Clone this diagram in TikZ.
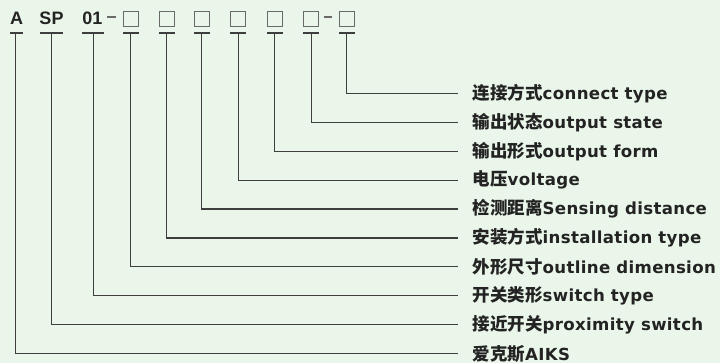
\documentclass[tikz,border=0pt]{standalone}
\usepackage{fontspec}
\setmainfont{DejaVu Sans}
\newfontfamily\cjk{Noto Sans CJK SC}
\newfontfamily\codefont{Liberation Sans}
\newfontfamily\itemfont[LetterSpace=2]{DejaVu Sans}
\usetikzlibrary{positioning}
\definecolor{bgcol}{RGB}{234,246,233}
\definecolor{linecol}{RGB}{62,62,62}
\definecolor{boxcol}{RGB}{105,105,105}
\definecolor{txtcol}{RGB}{35,35,35}
\newcommand{\zh}[1]{{\cjk\fontsize{17.5}{17.5}\selectfont #1}}

\begin{document}
\begin{tikzpicture}[x=1pt,y=-1pt,
  code/.style={font=\codefont\bfseries\fontsize{18}{18}\selectfont,text=txtcol,inner sep=0pt,anchor=base},
  slot/.style={draw=boxcol,line width=1pt,minimum size=15pt,inner sep=0pt},
  bar/.style={draw=linecol,line width=1.4pt},
  lead/.style={draw=linecol,line width=1.2pt},
  item/.style={font=\itemfont\bfseries\fontsize{16.6}{16.6}\selectfont,text=txtcol,inner sep=0pt,right=14.5pt of #1}]
\fill[bgcol] (0,0) rectangle (720,363);
\useasboundingbox (0,0) rectangle (720,363);
% type code
\node[code] (a) at (16.5,25) {A};
\node[code] (sp) at (51.5,25) {SP};
\node[code] (n01) at (92.5,25) {01};
\draw[boxcol,line width=1.2pt] (107,17) -- (116,17);
\node[slot] (b1) at (130.5,19.5) {};
\node[slot] (b2) at (166.5,19.5) {};
\node[slot] (b3) at (202,19.5) {};
\node[slot] (b4) at (238,19.5) {};
\node[slot] (b5) at (274.5,19.5) {};
\node[slot] (b6) at (310.5,19.5) {};
\draw[boxcol,line width=1.2pt] (324,17) -- (332,17);
\node[slot] (b7) at (346.5,19.5) {};
% bars under the code
\draw[bar] (10,33) -- (23,33);
\draw[bar] (40,33) -- (63,33);
\draw[bar] (82,33) -- (104,33);
\draw[bar] (123,33) -- (138.5,33);
\draw[bar] (158.5,33) -- (174.5,33);
\draw[bar] (194,33) -- (210,33);
\draw[bar] (230,33) -- (246,33);
\draw[bar] (266.5,33) -- (282.5,33);
\draw[bar] (302.5,33) -- (318.5,33);
\draw[bar] (338.5,33) -- (354.5,33);
\coordinate (ta) at (15.7,33);
\coordinate (tsp) at (51.7,33);
\coordinate (t01) at (93.7,33);
\coordinate (t1) at (130.7,33);
\coordinate (t2) at (166.7,33);
\coordinate (t3) at (201.7,33);
\coordinate (t4) at (238.3,33);
\coordinate (t5) at (274.3,33);
\coordinate (t6) at (311.3,33);
\coordinate (t7) at (346.7,33);
% line ends
\coordinate (e7) at (458,93.5);
\coordinate (e6) at (458,122.4);
\coordinate (e5) at (458,151.3);
\coordinate (e4) at (458,180.2);
\coordinate (e3) at (458,209.1);
\coordinate (e2) at (458,238);
\coordinate (e1) at (458,266.9);
\coordinate (e01) at (458,295.8);
\coordinate (esp) at (458,324.7);
\coordinate (ea) at (458,353.6);
% labels
\node[item=e7] (l7) {\zh{连接方式}connect type};
\node[item=e6] (l6) {\zh{输出状态}output state};
\node[item=e5] (l5) {\zh{输出形式}output form};
\node[item=e4] (l4) {\zh{电压}voltage};
\node[item=e3] (l3) {\zh{检测距离}Sensing distance};
\node[item=e2] (l2) {\zh{安装方式}installation type};
\node[item=e1] (l1) {\zh{外形尺寸}outline dimension};
\node[item=e01] (l01) {\zh{开关类形}switch type};
\node[item=esp] (lsp) {\zh{接近开关}proximity switch};
\node[item=ea] (la) {\zh{爱克斯}AIKS};
% leads
\draw[lead] (t7) |- (e7);
\draw[lead] (t6) |- (e6);
\draw[lead] (t5) |- (e5);
\draw[lead] (t4) |- (e4);
\draw[lead] (t3) |- (e3);
\draw[lead] (t2) |- (e2);
\draw[lead] (t1) |- (e1);
\draw[lead] (t01) |- (e01);
\draw[lead] (tsp) |- (esp);
\draw[lead] (ta) |- (ea);
\end{tikzpicture}
\end{document}
